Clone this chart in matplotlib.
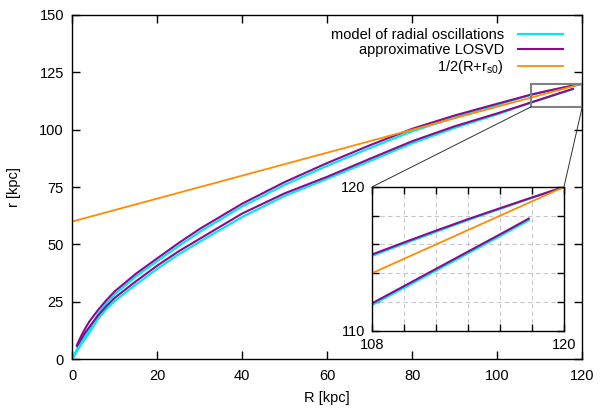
import matplotlib
matplotlib.use("Agg")
import matplotlib.pyplot as plt
from matplotlib.patches import Rectangle, ConnectionPatch
from matplotlib.ticker import MultipleLocator, FixedLocator, FixedFormatter

plt.rcParams['font.family'] = ['Liberation Sans', 'DejaVu Sans']
plt.rcParams['font.size'] = 10.5
plt.rcParams['mathtext.fontset'] = 'custom'
plt.rcParams['mathtext.rm'] = 'Liberation Sans'
plt.rcParams['mathtext.it'] = 'Liberation Sans'

# model of radial oscillations (two branches)
R_mod_up = [0, 1, 2, 4, 6, 8, 10, 15, 20, 25, 30, 40, 50, 60, 70, 80, 90, 100,
            108, 110, 112, 114, 116, 118, 120]
r_mod_up = [0, 4, 7.5, 13, 19.6, 24.4, 28.3, 36.1, 42.8, 49.3, 55.5, 66.6, 76.0, 84.3,
            92.0, 99.3, 105.3, 110.8, 115.2, 116.05, 116.88, 117.7, 118.47, 119.24, 120]
R_mod_lo = [0, 1, 2, 4, 6, 8, 10, 15, 20, 25, 30, 40, 50, 60, 70, 80, 90, 100,
            108, 110, 112, 114, 116, 117.8]
r_mod_lo = [0, 3.2, 6.2, 11.5, 17.4, 21.8, 25.4, 32.6, 39.4, 45.7, 51.2, 62.0, 71.2, 78.6,
            86.3, 94.1, 100.8, 106.7, 111.78, 112.98, 114.18, 115.38, 116.58, 117.68]

# approximative LOSVD (two branches)
R_los_up = [1.1, 2, 3, 4, 6, 8, 10, 15, 20, 25, 30, 40, 50, 60, 70, 80, 90, 100,
            108, 110, 112, 114, 116, 118, 120]
r_los_up = [6.2, 9.8, 13.3, 16.4, 21.3, 25.7, 29.6, 37.3, 44, 50.6, 56.8, 67.8, 77.2, 85.5,
            93.2, 100.4, 106.2, 111.3, 115.3, 116.14, 116.96, 117.76, 118.52, 119.27, 120]
R_los_lo = [1.1, 2, 3, 4, 6, 8, 10, 15, 20, 25, 30, 40, 50, 60, 70, 80, 90, 100,
            108, 110, 112, 114, 116, 117.8]
r_los_lo = [5.8, 8.5, 11.5, 14.0, 18.9, 23.1, 26.8, 34.0, 40.8, 47, 52.5, 63.5, 72.3, 79.5,
            87.3, 95, 101.5, 107.1, 111.9, 113.1, 114.3, 115.5, 116.7, 117.8]

# 1/2(R + r_s0), r_s0 = 120
R_half = [0, 120]
r_half = [60, 120]

CYAN = '#00e8f0'
PURPLE = '#8b0a8b'
ORANGE = '#ff8c00'

fig = plt.figure(figsize=(6.12, 4.17), dpi=100)
ax = fig.add_axes([0.1181, 0.1384, 0.8333, 0.8259])


def draw_curves(a):
    a.plot(R_mod_up, r_mod_up, color=CYAN, lw=1.6, label='model of radial oscillations')
    a.plot(R_mod_lo, r_mod_lo, color=CYAN, lw=1.6)
    a.plot(R_los_up, r_los_up, color=PURPLE, lw=1.5, label='approximative LOSVD')
    a.plot(R_los_lo, r_los_lo, color=PURPLE, lw=1.5)
    a.plot(R_half, r_half, color=ORANGE, lw=1.3, label=r'1/2(R+r$_{\mathregular{s0}}$)')


draw_curves(ax)
ax.set_xlim(0, 120)
ax.set_ylim(0, 150)
ax.xaxis.set_major_locator(MultipleLocator(20))
ax.yaxis.set_major_locator(MultipleLocator(25))
ax.tick_params(direction='in', top=True, right=True, length=6, width=1, pad=6)
ax.tick_params(axis='x', pad=7)
for s in ax.spines.values():
    s.set_linewidth(1.0)
ax.set_xlabel('R [kpc]', labelpad=6)
ax.set_ylabel('r [kpc]', labelpad=13)

ax.legend(loc='upper right', bbox_to_anchor=(0.988, 1.0), frameon=False, markerfirst=False,
          handlelength=3.1, handletextpad=0.95, labelspacing=0.06, borderaxespad=0.5)

# zoom rectangle
ax.add_patch(Rectangle((108, 110), 12, 10, fill=False, edgecolor='#808080', lw=1.5, zorder=5))

# inset
axins = fig.add_axes([0.6078, 0.2070, 0.3137, 0.3446])
axins.set_facecolor('white')
draw_curves(axins)
axins.set_xlim(108, 120)
axins.set_ylim(110, 120)
xt = [108, 110, 112, 114, 116, 118, 120]
yt = [110, 112, 114, 116, 118, 120]
axins.xaxis.set_major_locator(FixedLocator(xt))
axins.xaxis.set_major_formatter(FixedFormatter(['108', '', '', '', '', '', '120']))
axins.yaxis.set_major_locator(FixedLocator(yt))
axins.yaxis.set_major_formatter(FixedFormatter(['110', '', '', '', '', '120']))
axins.tick_params(direction='in', top=True, right=True, length=5, width=1, pad=5)
axins.grid(True, color='#c8c8c8', linestyle=(0, (4, 3)), lw=0.8)
for s in axins.spines.values():
    s.set_linewidth(1.0)

for xa, xb in [(108, 108), (120, 120)]:
    con = ConnectionPatch(xyA=(xa, 110), coordsA=ax.transData,
                          xyB=(xb, 120), coordsB=axins.transData,
                          color='#303030', lw=0.7)
    fig.add_artist(con)

fig.savefig('out.png', dpi=100)
